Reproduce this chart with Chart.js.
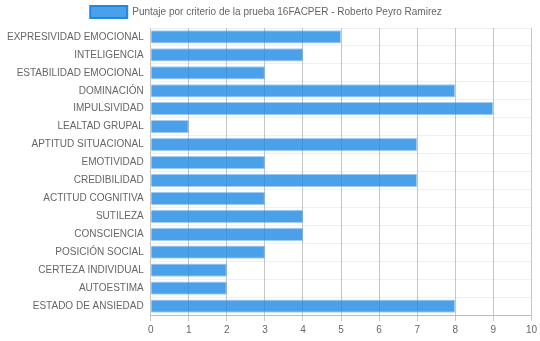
<!DOCTYPE html>
<html>
<head>
<meta charset="utf-8">
<script src="https://cdn.jsdelivr.net/npm/chart.js@4/dist/chart.umd.min.js"></script>
<style>
  html, body { margin: 0; padding: 0; background: #fff; }
  #wrap { width: 540px; height: 341px; }
</style>
</head>
<body>
<div id="wrap"><canvas id="grafico"></canvas></div>
<script>
// criterios y puntajes de la prueba 16FACPER
const criterios = [
    'EXPRESIVIDAD EMOCIONAL', 'INTELIGENCIA', 'ESTABILIDAD EMOCIONAL', 'DOMINACIÓN',
    'IMPULSIVIDAD', 'LEALTAD GRUPAL', 'APTITUD SITUACIONAL', 'EMOTIVIDAD',
    'CREDIBILIDAD', 'ACTITUD COGNITIVA', 'SUTILEZA', 'CONSCIENCIA',
    'POSICIÓN SOCIAL', 'CERTEZA INDIVIDUAL', 'AUTOESTIMA', 'ESTADO DE ANSIEDAD'
];
const puntajes = [5, 4, 3, 8, 9, 1, 7, 3, 7, 3, 4, 4, 3, 2, 2, 8];
const escala = { min: 0, max: 10, paso: 1 };

const AZUL = 'rgba(30,136,229,0.8)';
const AZUL_BORDE = 'rgba(30,136,229,0.4)';
const AZUL_LEYENDA = 'rgb(30,136,229)';

Chart.defaults.font.family = '"Liberation Sans", Arial, sans-serif';
Chart.defaults.font.size = 10;
Chart.defaults.color = '#666';

new Chart(document.getElementById('grafico'), {
    type: 'bar',
    data: {
        labels: criterios,
        datasets: [{
            label: 'Puntaje por criterio de la prueba 16FACPER - Roberto Peyro Ramirez',
            data: puntajes,
            backgroundColor: AZUL,
            borderColor: AZUL_BORDE,
            borderWidth: 1,
            barPercentage: 0.9,
            categoryPercentage: 0.82
        }]
    },
    options: {
        indexAxis: 'y',
        responsive: true,
        maintainAspectRatio: false,
        animation: false,
        layout: { padding: { left: 0, right: 8, top: 0, bottom: 2 } },
        plugins: {
            legend: {
                labels: {
                    boxWidth: 37,
                    boxHeight: 12,
                    padding: 6,
                    // caja de la leyenda con borde azul sólido
                    generateLabels: chart => Chart.defaults.plugins.legend.labels.generateLabels(chart)
                        .map(item => ({ ...item, strokeStyle: AZUL_LEYENDA, lineWidth: 2 }))
                }
            },
            tooltip: { enabled: false }
        },
        scales: {
            x: {
                min: escala.min,
                max: escala.max,
                ticks: { stepSize: escala.paso, padding: 3 },
                grid: { color: 'rgba(0,0,0,0.22)', tickLength: 6 },
                border: { color: 'rgba(0,0,0,0.22)' }
            },
            y: {
                ticks: { padding: 7 },
                grid: { color: 'rgba(0,0,0,0.06)', tickLength: 0 },
                border: { display: false }
            }
        }
    }
});
</script>
</body>
</html>
